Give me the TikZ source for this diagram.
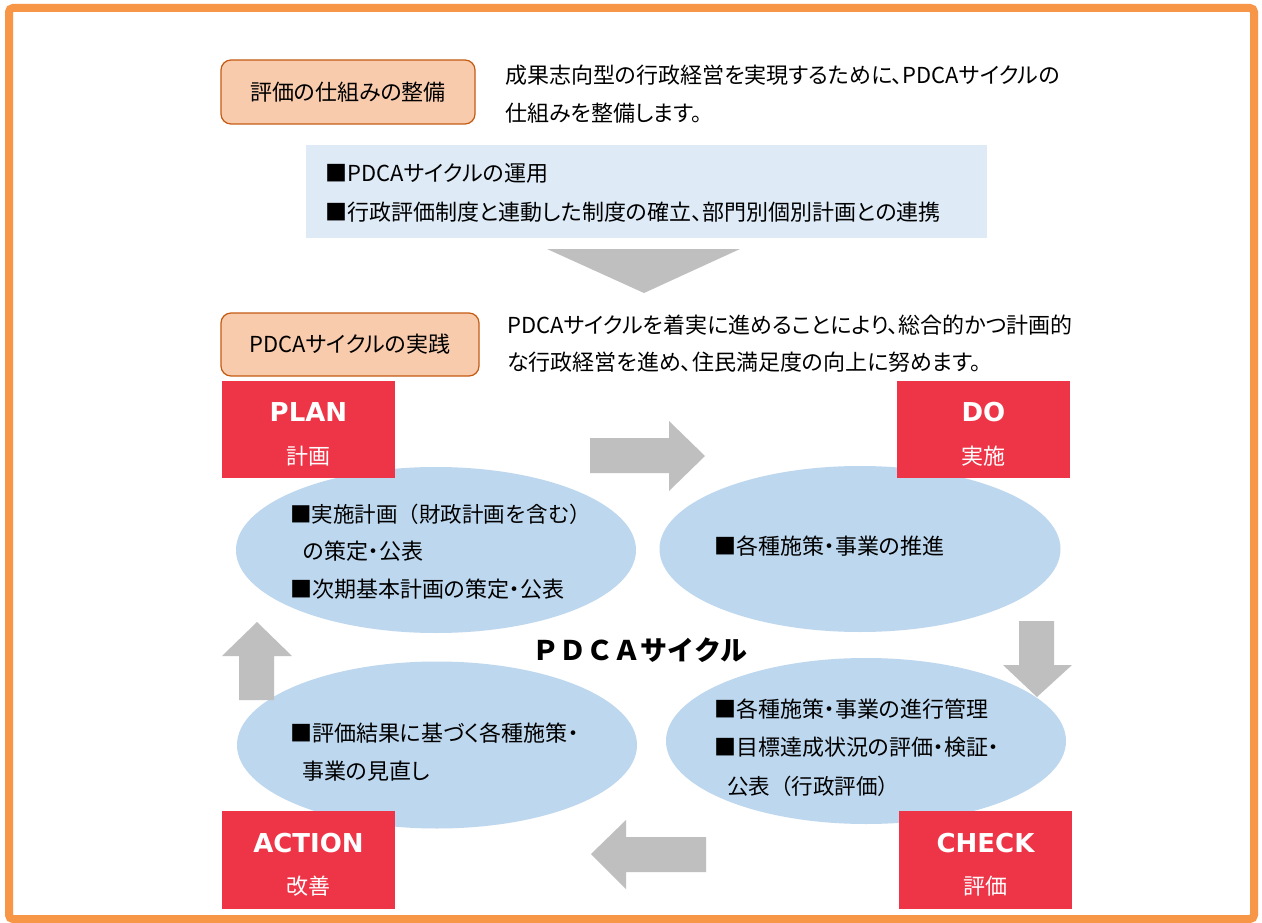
\documentclass[tikz,border=0pt]{standalone}
\usepackage{fontspec}
\setmainfont{Noto Sans CJK JP}[RawFeature=+palt]
\newfontfamily\jpfull{Noto Sans CJK JP}
\newfontfamily\latb{DejaVu Sans}
\usetikzlibrary{shapes.geometric}
\definecolor{frameor}{HTML}{F79646}
\definecolor{tagfill}{HTML}{F8CBAD}
\definecolor{tagline}{HTML}{C55A11}
\definecolor{lightbox}{HTML}{DEEBF7}
\definecolor{ellfill}{HTML}{BDD7EE}
\definecolor{redbox}{HTML}{EE3548}
\definecolor{arrgray}{HTML}{BFBFBF}
\tikzset{
  jtext/.style={inner sep=0pt, anchor=west, font=\fontsize{22}{26}\selectfont, text=black},
  jfull/.style={inner sep=0pt, anchor=west, font=\jpfull\fontsize{21.5}{26}\selectfont, text=black},
  tagbox/.style={draw=tagline, fill=tagfill, line width=1.2pt, rounded corners=10pt, inner sep=0pt, font=\fontsize{22}{26}\selectfont},
  ellbox/.style={ellipse, fill=ellfill, draw=none, inner sep=0pt},
  redbg/.style={rectangle, fill=redbox, draw=none, inner sep=0pt, minimum width=173pt, minimum height=97pt},
  redtitle/.style={inner sep=0pt, text=white, font=\latb\bfseries\fontsize{26}{30}\selectfont},
  redsub/.style={inner sep=0pt, text=white, font=\fontsize{22}{26}\selectfont},
  blockarrow/.style={fill=arrgray, draw=none}
}
\begin{document}
\begin{tikzpicture}[x=1pt, y=-1pt]
\useasboundingbox (0,0) rectangle (1262,923);
\fill[white] (0,0) rectangle (1262,923);
% outer frame
\draw[frameor, line width=8pt, rounded corners=4pt] (9,8) rectangle (1254,919);

% top section
\node[tagbox, minimum width=254pt, minimum height=64pt] (tag1) at (348,92) {評価の仕組みの整備};
\node[jtext] (intro1) at (505,75) {成果志向型の行政経営を実現するために、PDCAサイクルの};
\node[jtext] (intro2) at (505,113) {仕組みを整備します。};

\node[rectangle, fill=lightbox, draw=none, minimum width=681pt, minimum height=93pt, inner sep=0pt] (lbox) at (646.5,191.5) {};
\node[jtext] (lb1) at (325,173) {■PDCAサイクルの運用};
\node[jtext] (lb2) at (325,212) {■行政評価制度と連動した制度の確立、部門別個別計画との連携};

\fill[arrgray] (547,249) -- (740,249) -- (644,293) -- cycle;

\node[tagbox, minimum width=258pt, minimum height=63pt] (tag2) at (350,344.5) {PDCAサイクルの実践};
\node[jtext] (intro3) at (507,325) {PDCAサイクルを着実に進めることにより、総合的かつ計画的};
\node[jtext] (intro4) at (507,362) {な行政経営を進め、住民満足度の向上に努めます。};

% ellipses
\node[ellbox, minimum width=400pt, minimum height=166pt] (pell) at (436,550) {};
\node[ellbox, minimum width=401pt, minimum height=166pt] (dell) at (860,549) {};
\node[ellbox, minimum width=400pt, minimum height=167pt] (aell) at (437,745) {};
\node[ellbox, minimum width=400pt, minimum height=166pt] (cell) at (866,741) {};

% red boxes
\node[redbg] (plan) at (308.5,429.5) {};
\node[redtitle] (plant) at (308.5,412) {PLAN};
\node[redsub] (plans) at (308.5,456) {計画};

\node[redbg] (do) at (983.5,429.5) {};
\node[redtitle] (dot) at (983.5,412) {DO};
\node[redsub] (dos) at (983.5,456) {実施};

\node[redbg, minimum height=98pt] (action) at (308.5,860) {};
\node[redtitle] (actiont) at (308.5,843) {ACTION};
\node[redsub] (actions) at (308.5,886) {改善};

\node[redbg, minimum height=98pt] (check) at (985.5,860) {};
\node[redtitle] (checkt) at (985.5,843) {CHECK};
\node[redsub] (checks) at (985.5,886) {評価};

% block arrows
\fill[blockarrow] (590,438) -- (669,438) -- (669,421) -- (705,456) -- (669,491) -- (669,473) -- (590,473) -- cycle;
\fill[blockarrow] (1019,621) -- (1054,621) -- (1054,665) -- (1072,665) -- (1037,697) -- (1003,665) -- (1019,665) -- cycle;
\fill[blockarrow] (706,837) -- (626,837) -- (626,820) -- (591,854) -- (626,889) -- (626,872) -- (706,872) -- cycle;
\fill[blockarrow] (239,700) -- (239,656) -- (222,656) -- (257,622) -- (292,656) -- (274,656) -- (274,700) -- cycle;

% ellipse texts
\node[jfull] (p1) at (290,514) {■実施計画（財政計画を含む）};
\node[jtext] (p2) at (303,551) {の策定・公表};
\node[jtext] (p3) at (290,589) {■次期基本計画の策定・公表};

\node[jtext] (d1) at (714,546) {■各種施策・事業の推進};

\node[jtext] (c1) at (714,709) {■各種施策・事業の進行管理};
\node[jtext] (c2) at (714,747) {■目標達成状況の評価・検証・};
\node[jfull] (c3) at (727,786) {公表（行政評価）};

\node[jtext] (a1) at (290,733) {■評価結果に基づく各種施策・};
\node[jtext] (a2) at (302,771) {事業の見直し};

% center title
\node[inner sep=0pt, font=\jpfull\bfseries\fontsize{27}{32}\selectfont] (cycle) at (640,650) {ＰＤＣＡサイクル};
\end{tikzpicture}
\end{document}
